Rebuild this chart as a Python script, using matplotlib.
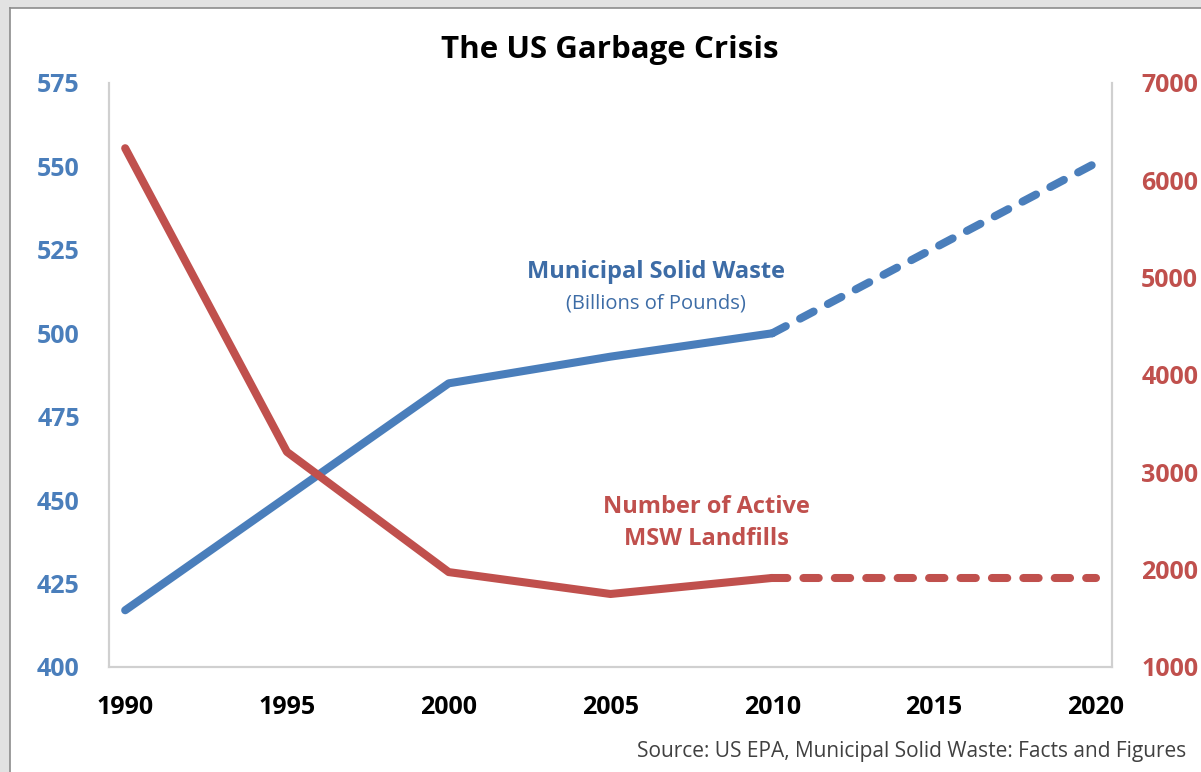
import matplotlib.pyplot as plt
from matplotlib.patches import Rectangle

plt.rcParams['font.family'] = ['Open Sans', 'DejaVu Sans']
plt.rcParams['font.weight'] = 'bold'

BLUE = "#4a7ebb"
BLUE_TXT = "#3d6ca6"
RED = "#c0504d"

# municipal solid waste, billions of pounds (measured to 2010, projected after)
msw_years = [1990, 2000, 2005, 2010]
msw_vals = [417, 485, 493, 500]
msw_proj_years = [2010, 2020]
msw_proj_vals = [500, 551]

# number of active MSW landfills
lf_years = [1990, 1995, 2000, 2005, 2010]
lf_vals = [6330, 3210, 1975, 1750, 1915]
lf_proj_years = [2010, 2020]
lf_proj_vals = [1915, 1915]

xticks = [1990, 1995, 2000, 2005, 2010, 2015, 2020]
left_ticks = [400, 425, 450, 475, 500, 525, 550, 575]
right_ticks = [1000, 2000, 3000, 4000, 5000, 6000, 7000]

fig = plt.figure(figsize=(12.01, 7.72), dpi=100)
fig.patch.set_facecolor("white")
# screenshot-style frame along top and left
fig.patches.append(Rectangle((0, 0), 10 / 1201, 1, transform=fig.transFigure,
                             facecolor="#e2e2e2", edgecolor="none", zorder=0))
fig.patches.append(Rectangle((0, 1 - 8 / 772), 1, 8 / 772, transform=fig.transFigure,
                             facecolor="#e2e2e2", edgecolor="none", zorder=0))
fig.lines.append(plt.Line2D([10 / 1201, 10 / 1201], [0, 1 - 8 / 772], transform=fig.transFigure,
                            color="#8c8c8c", lw=1.2))
fig.lines.append(plt.Line2D([10 / 1201, 1], [1 - 8 / 772, 1 - 8 / 772], transform=fig.transFigure,
                            color="#8c8c8c", lw=1.2))

ax = fig.add_axes([109 / 1201, 1 - 667 / 772, (1112 - 109) / 1201, (667 - 83) / 772])
ax2 = ax.twinx()

lw = 5.8
ax.plot(msw_years, msw_vals, color=BLUE, lw=lw, solid_capstyle="round", solid_joinstyle="round")
ax.plot(msw_proj_years, msw_proj_vals, color=BLUE, lw=lw, dashes=(1.9, 2.0),
        dash_capstyle="round")
ax2.plot(lf_years, lf_vals, color=RED, lw=lw, solid_capstyle="round", solid_joinstyle="round")
ax2.plot(lf_proj_years, lf_proj_vals, color=RED, lw=lw, dashes=(1.9, 2.0),
         dash_capstyle="round")

ax.set_xlim(1989.5, 2020.5)
ax.set_ylim(400, 575)
ax2.set_ylim(1000, 7000)
ax.set_xticks(xticks)
ax.set_yticks(left_ticks)
ax2.set_yticks(right_ticks)

ax.tick_params(axis="x", length=0, pad=20, labelsize=18, labelcolor="black")
ax.tick_params(axis="y", length=0, pad=21, labelsize=18, labelcolor=BLUE)
ax2.tick_params(axis="y", length=0, pad=21, labelsize=18, labelcolor=RED)

for a in (ax, ax2):
    a.spines["top"].set_visible(False)
    for s in ("left", "right", "bottom"):
        a.spines[s].set_color("#d0d0d0")
        a.spines[s].set_linewidth(1.5)

# series labels placed inside the plot
ax.text(0.545, 0.676, "Municipal Solid Waste", transform=ax.transAxes, ha="center",
        va="center", fontsize=17, fontweight="bold", color=BLUE_TXT)
ax.text(0.545, 0.622, "(Billions of Pounds)", transform=ax.transAxes, ha="center",
        va="center", fontsize=14.5, fontweight="normal", color=BLUE_TXT)
ax.text(0.596, 0.247, "Number of Active\nMSW Landfills", transform=ax.transAxes, ha="center",
        va="center", fontsize=17, fontweight="bold", color=RED, linespacing=1.45)

fig.text(610 / 1201, 1 - 50 / 772, "The US Garbage Crisis", ha="center", va="center",
         fontsize=22.5, fontweight="bold", color="black")
fig.text(1186 / 1201, 1 - 751 / 772, "Source: US EPA, Municipal Solid Waste: Facts and Figures",
         ha="right", va="center", fontsize=15, fontweight="normal", color="#404040")

fig.savefig("out.png", dpi=100)
